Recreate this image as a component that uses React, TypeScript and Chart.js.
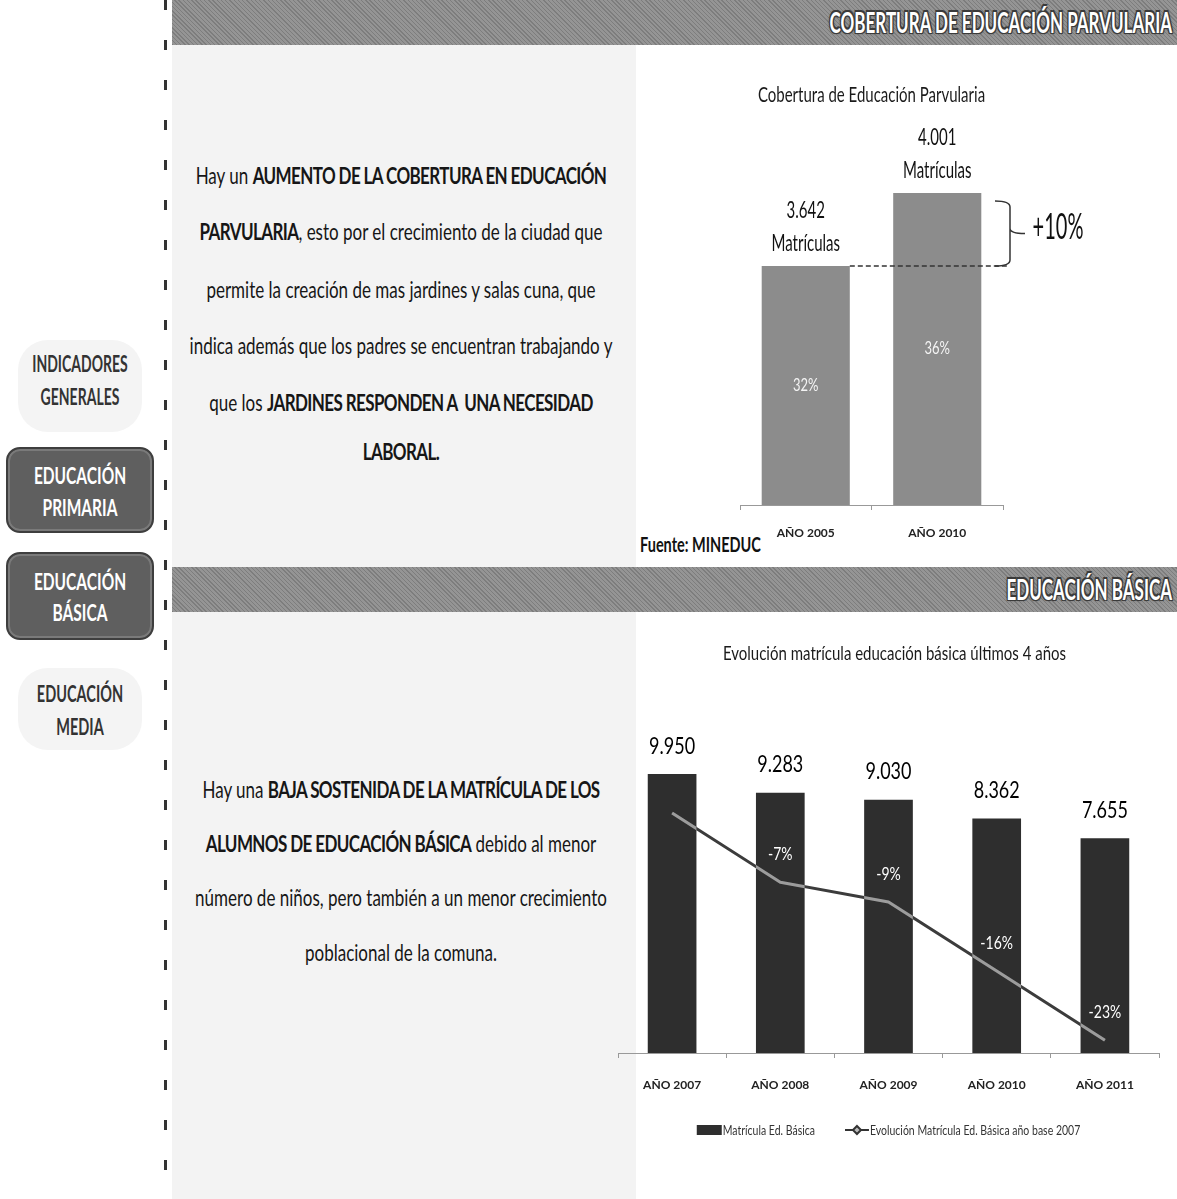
import React, { useEffect, useRef } from "react";
import { Chart, registerables } from "chart.js";

Chart.register(...registerables);

const FONT = "Lato, 'Open Sans', 'DejaVu Sans', sans-serif";

// ---------- Chart 1: Cobertura de Educación Parvularia ----------
const parvTitle = "Cobertura de Educación Parvularia";
const parvYears = ["AÑO 2005", "AÑO 2010"];
const parvMatriculas = [3642, 4001];
const parvCobertura = [32, 36];
const parvIncrease = "+10%";

// ---------- Chart 2: Evolución matrícula educación básica ----------
const basicaTitle = "Evolución matrícula educación básica últimos 4 años";
const basicaYears = ["AÑO 2007", "AÑO 2008", "AÑO 2009", "AÑO 2010", "AÑO 2011"];
const basicaMatricula = [9950, 9283, 9030, 8362, 7655];
const basicaEvolucion = [0, -7, -9, -16, -23];
const basicaEvolucionLabels = ["", "-7%", "-9%", "-16%", "-23%"];
const basicaSeriesNames = ["Matrícula Ed. Básica", "Evolución Matrícula Ed. Básica año base 2007"];

// ---------- Texts ----------
type Seg = [string, boolean];
const parrafo1: Seg[][] = [
  [["Hay un ", false], ["AUMENTO DE LA COBERTURA EN EDUCACIÓN", true]],
  [["PARVULARIA", true], [", esto por el crecimiento de la ciudad que", false]],
  [["permite la creación de mas jardines y salas cuna, que", false]],
  [["indica además que los padres se encuentran trabajando y", false]],
  [["que los ", false], ["JARDINES RESPONDEN A  UNA NECESIDAD", true]],
  [["LABORAL.", true]],
];
const parrafo2: Seg[][] = [
  [["Hay una ", false], ["BAJA SOSTENIDA DE LA MATRÍCULA DE LOS", true]],
  [["ALUMNOS DE EDUCACIÓN BÁSICA", true], [" debido al menor", false]],
  [["número de niños, pero también a un menor crecimiento", false]],
  [["poblacional de la comuna.", false]],
];

const fmt = (v: number) => v.toString().replace(/\B(?=(\d{3})+(?!\d))/g, ".");

function sText(
  ctx: CanvasRenderingContext2D,
  text: string,
  x: number,
  y: number,
  size: number,
  weight: number | string,
  color: string,
  sy: number,
  align: CanvasTextAlign = "center"
) {
  ctx.save();
  ctx.translate(x, y);
  ctx.scale(1, sy);
  ctx.font = `${weight} ${size}px ${FONT}`;
  ctx.fillStyle = color;
  ctx.textAlign = align;
  ctx.textBaseline = "middle";
  ctx.fillText(text, 0, 0);
  ctx.restore();
}

const parvPlugin = {
  id: "parvLabels",
  afterDatasetsDraw(chart: any) {
    const ctx: CanvasRenderingContext2D = chart.ctx;
    const area = chart.chartArea;
    const meta = chart.getDatasetMeta(0);
    sText(ctx, parvTitle, (area.left + area.right) / 2, 35, 15, 400, "#1a1a1a", 1.35);
    meta.data.forEach((el: any, i: number) => {
      const base = Math.min(el.base ?? area.bottom, area.bottom);
      sText(ctx, fmt(parvMatriculas[i]), el.x, el.y - 55, 15, 400, "#111", 1.5);
      sText(ctx, "Matrículas", el.x, el.y - 22, 15, 400, "#111", 1.5);
      sText(ctx, `${parvCobertura[i]}%`, el.x, (el.y + base) / 2, 13, 400, "#f4f4f4", 1.3);
    });
    const b0 = meta.data[0];
    const b1 = meta.data[1];
    const y0 = b0.y;
    const y1 = b1.y;
    ctx.save();
    ctx.strokeStyle = "#333";
    ctx.lineWidth = 1.5;
    ctx.setLineDash([5, 3]);
    ctx.beginPath();
    ctx.moveTo(b0.x + b0.width / 2, y0);
    ctx.lineTo(area.right + 5, y0);
    ctx.stroke();
    const bx = area.right + 7;
    const bl = area.right - 8;
    const tip = area.right + 22;
    const top = y1 + 8;
    const bot = y0;
    const mid = (top + bot) / 2;
    ctx.setLineDash([]);
    ctx.beginPath();
    ctx.moveTo(bl, top);
    ctx.quadraticCurveTo(bx, top, bx, top + 6);
    ctx.lineTo(bx, mid - 5);
    ctx.quadraticCurveTo(bx, mid, tip, mid);
    ctx.moveTo(bx, mid - 5);
    ctx.quadraticCurveTo(bx, mid, bx + 0.01, mid + 5);
    ctx.lineTo(bx, bot - 6);
    ctx.quadraticCurveTo(bx, bot, bl, bot);
    ctx.stroke();
    ctx.restore();
    sText(ctx, parvIncrease, area.right + 55, mid - 6, 20, 400, "#111", 1.8);
  },
};

const basicaPlugin = {
  id: "basicaLabels",
  afterDatasetsDraw(chart: any) {
    const ctx: CanvasRenderingContext2D = chart.ctx;
    const area = chart.chartArea;
    const lineMeta = chart.getDatasetMeta(0);
    const barMeta = chart.getDatasetMeta(1);
    // lighter look of the line over the dark bars
    ctx.save();
    ctx.beginPath();
    barMeta.data.forEach((el: any) => {
      ctx.rect(el.x - el.width / 2, el.y, el.width, el.base - el.y);
    });
    ctx.clip();
    ctx.strokeStyle = "#9c9c9c";
    ctx.lineWidth = 3;
    ctx.lineJoin = "round";
    ctx.beginPath();
    lineMeta.data.forEach((p: any, i: number) => (i ? ctx.lineTo(p.x, p.y) : ctx.moveTo(p.x, p.y)));
    ctx.stroke();
    ctx.restore();

    sText(ctx, basicaTitle, (area.left + area.right) / 2 + 6, 29, 15, 400, "#1a1a1a", 1.3);
    barMeta.data.forEach((el: any, i: number) => {
      sText(ctx, fmt(basicaMatricula[i]), el.x, el.y - 28, 18, 400, "#000", 1.3);
    });
    lineMeta.data.forEach((p: any, i: number) => {
      const t = basicaEvolucionLabels[i];
      if (t) sText(ctx, t, p.x, p.y - 28, 14, 400, "#ffffff", 1.3);
    });

    // legend
    const ly = 505;
    ctx.save();
    ctx.font = `400 10.5px ${FONT}`;
    const w0 = ctx.measureText(basicaSeriesNames[0]).width;
    const w1 = ctx.measureText(basicaSeriesNames[1]).width;
    ctx.restore();
    const total = 25 + 1 + w0 + 30 + 24 + 1 + w1;
    let x = (area.left + area.right) / 2 - total / 2;
    ctx.save();
    ctx.fillStyle = "#2e2e2e";
    ctx.fillRect(x, ly - 5, 25, 10);
    ctx.restore();
    x += 26;
    sText(ctx, basicaSeriesNames[0], x, ly, 10.5, 400, "#333", 1.35, "left");
    x += w0 + 30;
    ctx.save();
    ctx.strokeStyle = "#333";
    ctx.lineWidth = 2;
    ctx.beginPath();
    ctx.moveTo(x, ly);
    ctx.lineTo(x + 24, ly);
    ctx.stroke();
    ctx.fillStyle = "#bbb";
    ctx.beginPath();
    ctx.moveTo(x + 12, ly - 4);
    ctx.lineTo(x + 16, ly);
    ctx.lineTo(x + 12, ly + 4);
    ctx.lineTo(x + 8, ly);
    ctx.closePath();
    ctx.fill();
    ctx.stroke();
    ctx.restore();
    x += 25;
    sText(ctx, basicaSeriesNames[1], x, ly, 10.5, 400, "#333", 1.35, "left");
  },
};

function ParvChart() {
  const ref = useRef<HTMLCanvasElement | null>(null);
  useEffect(() => {
    if (!ref.current) return;
    const chart = new Chart(ref.current, {
      type: "bar",
      data: {
        labels: parvYears,
        datasets: [
          {
            data: parvMatriculas,
            backgroundColor: "#8c8c8c",
            barPercentage: 0.67,
            categoryPercentage: 1,
          },
        ],
      },
      options: {
        animation: false,
        responsive: true,
        maintainAspectRatio: false,
        layout: { padding: { left: 100, right: 174, top: 40, bottom: 10 } },
        plugins: { legend: { display: false }, tooltip: { enabled: false }, title: { display: false } },
        scales: {
          x: {
            afterFit: (s: any) => {
              s.height = 45;
            },
            grid: { display: true, drawOnChartArea: false, tickLength: 5, color: "#999" },
            border: { display: true, color: "#999", dash: [3, 2] },
            ticks: { padding: 16, color: "#222", font: { family: FONT, size: 12, weight: "bold" } },
          },
          y: { display: false, min: 2470, max: 4457 },
        },
      },
      plugins: [parvPlugin],
    } as any);
    return () => chart.destroy();
  }, []);
  return (
    <div style={{ position: "absolute", left: 640, top: 60, width: 537, height: 500 }}>
      <canvas ref={ref} />
    </div>
  );
}

function BasicaChart() {
  const ref = useRef<HTMLCanvasElement | null>(null);
  useEffect(() => {
    if (!ref.current) return;
    const chart = new Chart(ref.current, {
      type: "bar",
      data: {
        labels: basicaYears,
        datasets: [
          {
            type: "line",
            label: basicaSeriesNames[1],
            data: basicaEvolucion,
            yAxisID: "y2",
            borderColor: "#3c3c3c",
            borderWidth: 3,
            pointRadius: 0,
            tension: 0,
            order: 0,
          },
          {
            type: "bar",
            label: basicaSeriesNames[0],
            data: basicaMatricula,
            yAxisID: "y",
            backgroundColor: "#2e2e2e",
            barPercentage: 0.45,
            categoryPercentage: 1,
            order: 1,
          },
        ],
      },
      options: {
        animation: false,
        responsive: true,
        maintainAspectRatio: false,
        layout: { padding: { left: 8, right: 18, top: 75, bottom: 52 } },
        plugins: { legend: { display: false }, tooltip: { enabled: false }, title: { display: false } },
        scales: {
          x: {
            afterFit: (s: any) => {
              s.height = 50;
            },
            grid: { display: true, drawOnChartArea: false, tickLength: 5, color: "#999" },
            border: { display: true, color: "#999", dash: [3, 2] },
            ticks: { padding: 20, color: "#222", font: { family: FONT, size: 12, weight: "bold" } },
          },
          y: { display: false, min: 0, max: 12590 },
          y2: { display: false, position: "right", min: -24.3, max: 11.45 },
        },
      },
      plugins: [basicaPlugin],
    } as any);
    return () => chart.destroy();
  }, []);
  return (
    <div style={{ position: "absolute", left: 610, top: 625, width: 567, height: 530 }}>
      <canvas ref={ref} />
    </div>
  );
}

function TLine(props: {
  x: number;
  y: number;
  size: number;
  weight?: number;
  color?: string;
  sy?: number;
  align?: "center" | "right" | "left";
  shadow?: string;
  spacing?: number;
  children: React.ReactNode;
}) {
  const { x, y, size, weight = 400, color = "#222", sy = 1.3, align = "center", shadow, spacing = 0 } = props;
  const tx = align === "center" ? "-50%" : align === "right" ? "-100%" : "0";
  return (
    <div
      style={{
        position: "absolute",
        left: x,
        top: y,
        transform: `translate(${tx}, -50%) scaleY(${sy})`,
        whiteSpace: "pre",
        fontFamily: FONT,
        fontSize: size,
        fontWeight: weight,
        color,
        lineHeight: 1,
        textShadow: shadow,
        letterSpacing: spacing,
      }}
    >
      {props.children}
    </div>
  );
}

function Paragraph({ lines, ys }: { lines: Seg[][]; ys: number[] }) {
  return (
    <>
      {lines.map((segs, i) => (
        <TLine key={i} x={401} y={ys[i]} size={17} sy={1.3} color="#161616">
          {segs.map(([t, b], j) => (
            <span key={j} style={{ fontWeight: b ? 700 : 400, letterSpacing: b ? -0.6 : 0 }}>
              {t}
            </span>
          ))}
        </TLine>
      ))}
    </>
  );
}

const headerShadow =
  "1px 1px 0 #3a3a3a, -1px -1px 0 #3a3a3a, 1px -1px 0 #3a3a3a, -1px 1px 0 #3a3a3a, 0 0 2px #222";

const headerBg =
  "repeating-linear-gradient(45deg, rgba(0,0,0,0.12) 0px, rgba(0,0,0,0.12) 1px, rgba(255,255,255,0.06) 1px, rgba(255,255,255,0.06) 3px), #8e8e8e";

function Header({ top, text }: { top: number; text: string }) {
  return (
    <div style={{ position: "absolute", left: 172, top, width: 1005, height: 45, background: headerBg }}>
      <TLine x={1000} y={22} size={17} weight={700} color="#ffffff" sy={1.65} align="right" shadow={headerShadow}>
        {text}
      </TLine>
    </div>
  );
}

function NavBox({ top, height, l1, l2, y1, y2 }: { top: number; height: number; l1: string; l2: string; y1: number; y2: number }) {
  return (
    <>
      <div
        style={{
          position: "absolute",
          left: 6,
          top,
          width: 148,
          height,
          boxSizing: "border-box",
          borderRadius: 14,
          background: "#5f5f5f",
          border: "2px solid #3e3e3e",
          boxShadow: "inset 0 0 0 2px #7a7a7a",
        }}
      />
      <TLine x={80} y={y1} size={15.5} weight={700} color="#ffffff" sy={1.45}>
        {l1}
      </TLine>
      <TLine x={80} y={y2} size={15.5} weight={700} color="#ffffff" sy={1.45}>
        {l2}
      </TLine>
    </>
  );
}

export default function App() {
  return (
    <div
      style={{
        position: "absolute",
        left: 0,
        top: 0,
        width: 1177,
        height: 1199,
        overflow: "hidden",
        background: "#ffffff",
        fontFamily: FONT,
      }}
    >
      {/* faint panels */}
      <div style={{ position: "absolute", left: 172, top: 45, width: 464, height: 522, background: "#f3f3f3" }} />
      <div style={{ position: "absolute", left: 172, top: 612, width: 464, height: 587, background: "#f3f3f3" }} />
      <div style={{ position: "absolute", left: 18, top: 340, width: 124, height: 92, borderRadius: 30, background: "#f4f4f4" }} />
      <div style={{ position: "absolute", left: 18, top: 668, width: 124, height: 82, borderRadius: 30, background: "#f4f4f4" }} />

      {/* vertical dashed divider */}
      <div
        style={{
          position: "absolute",
          left: 164,
          top: 0,
          width: 3,
          height: 1199,
          background: "repeating-linear-gradient(to bottom, #333 0px, #333 10px, transparent 10px, transparent 40px)",
        }}
      />

      <Header top={0} text="COBERTURA DE EDUCACIÓN PARVULARIA" />
      <Header top={567} text="EDUCACIÓN BÁSICA" />

      {/* sidebar */}
      <TLine x={80} y={364} size={14} weight={700} color="#333" sy={1.6}>
        INDICADORES
      </TLine>
      <TLine x={80} y={397} size={14} weight={700} color="#333" sy={1.6}>
        GENERALES
      </TLine>
      <NavBox top={447} height={86} l1="EDUCACIÓN" l2="PRIMARIA" y1={476} y2={508} />
      <NavBox top={552} height={88} l1="EDUCACIÓN" l2="BÁSICA" y1={582} y2={613} />
      <TLine x={80} y={694} size={14.5} weight={700} color="#333" sy={1.6}>
        EDUCACIÓN
      </TLine>
      <TLine x={80} y={727} size={14.5} weight={700} color="#333" sy={1.6}>
        MEDIA
      </TLine>

      <Paragraph lines={parrafo1} ys={[176, 232, 290, 346, 403, 452]} />
      <Paragraph lines={parrafo2} ys={[790, 844, 898, 953]} />

      <TLine x={640} y={545} size={14.5} weight={700} color="#111" sy={1.4} align="left">
        Fuente: MINEDUC
      </TLine>

      <ParvChart />
      <BasicaChart />
    </div>
  );
}
